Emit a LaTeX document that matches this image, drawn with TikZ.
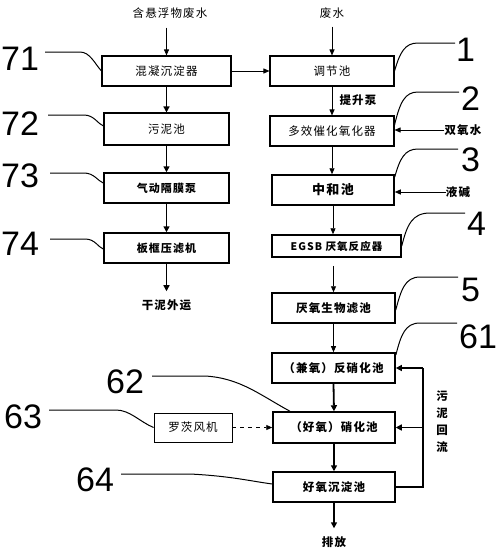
\documentclass[tikz,border=0pt]{standalone}
\usepackage{fontspec}
\setmainfont{Noto Sans CJK SC}
\newfontfamily\cjk[LetterSpace=10]{Noto Sans CJK SC}
\newfontfamily\numf{Liberation Sans}
\usetikzlibrary{arrows.meta}
\begin{document}
\begin{tikzpicture}[x=1pt,y=-1pt,
 box/.style={draw, line width=1.1pt, minimum height=30pt, inner sep=0pt, font=\cjk\fontsize{11.5}{13}\selectfont},
 bbox/.style={box, line width=1.5pt, font=\cjk\bfseries\fontsize{11.5}{13}\selectfont},
 lbl/.style={inner sep=0pt, font=\cjk\fontsize{11.5}{13}\selectfont},
 blbl/.style={inner sep=0pt, font=\cjk\bfseries\fontsize{11.5}{13}\selectfont},
 num/.style={inner sep=0pt, anchor=north west, font=\numf\fontsize{34}{36}\selectfont},
 tarrow/.style={line width=0.9pt, -{Triangle[length=6pt,width=5pt]}},
 karrow/.style={line width=1.8pt, -{Triangle[length=6pt,width=6pt]}},
 leader/.style={line width=1pt}]
\useasboundingbox (0,0) rectangle (498,554);
% left column
\node[box, minimum width=129pt] (B71) at (166.5,71) {混凝沉淀器};
\node[box, minimum width=125pt, minimum height=32pt] (B72) at (166.5,129) {污泥池};
\node[bbox, minimum width=125pt, font=\cjk\bfseries\fontsize{11}{13}\selectfont] (B73) at (166.5,188) {气动隔膜泵};
\node[bbox, minimum width=125pt, font=\cjk\bfseries\fontsize{11}{13}\selectfont] (B74) at (166.5,248) {板框压滤机};
% right column
\node[box, minimum width=124pt] (B1) at (332,71) {调节池};
\node[box, minimum width=124pt] (B2) at (332,131) {多效催化氧化器};
\node[bbox, minimum width=122pt, font=\cjk\bfseries\fontsize{13}{15}\selectfont] (B3) at (333,190) {中和池};
\node[bbox, minimum width=129pt, minimum height=22pt, font=\cjk\bfseries\fontsize{10.5}{12}\selectfont] (B4) at (336.5,246) {EGSB 厌氧反应器};
\node[bbox, minimum width=123pt] (B5) at (333.5,308) {厌氧生物滤池};
\node[bbox, minimum width=123pt, line width=1.7pt] (B61) at (333.5,368) {（兼氧）反硝化池};
\node[bbox, minimum width=122pt, minimum height=31pt] (B62) at (334,427.5) {（好氧）硝化池};
\node[bbox, minimum width=122pt] (B64) at (334,487) {好氧沉淀池};
\node[box, minimum width=78pt, minimum height=29pt, line width=0.8pt] (B63) at (193,427.5) {罗茨风机};
% labels
\node[lbl] (in71) at (170,13) {含悬浮物废水};
\node[lbl] (in1) at (332,13) {废水};
\node[blbl] (pump) at (358,100) {提升泵};
\node[blbl] (h2o2) at (463,130) {双氧水};
\node[blbl] (naoh) at (458,192) {液碱};
\node[blbl] (dry) at (166.5,305) {干泥外运};
\node[blbl] (out) at (334,542) {排放};
\node[blbl, align=center, font=\cjk\bfseries\fontsize{11.5}{17}\selectfont] (ret) at (442,422) {污\\泥\\回\\流};
% numbers
\node[num] (n71) at (1,47) {71};
\node[num] (n72) at (1,112) {72};
\node[num] (n73) at (1,164) {73};
\node[num] (n74) at (1,232) {74};
\node[num] (n63) at (4,405) {63};
\node[num] (n62) at (106,370) {62};
\node[num] (n64) at (76,468) {64};
\node[num] (n1) at (456,38) {1};
\node[num] (n2) at (461,87) {2};
\node[num] (n3) at (461,148) {3};
\node[num] (n4) at (467,212) {4};
\node[num] (n5) at (461,278) {5};
\node[num] (n61) at (459,325) {61};
% flow arrows
\draw[tarrow, shorten <=9pt] (in71.south -| B71.north) -- (B71.north);
\draw[karrow] (B71.south) -- (B72.north);
\draw[karrow] (B72.south) -- (B73.north);
\draw[karrow] (B73.south) -- (B74.north);
\draw[karrow, shorten >=8pt] (B74.south) -- (dry.north);
\draw[tarrow, shorten <=8pt] (in1.south) -- (B1.north);
\draw[tarrow] (B71.east) -- (B1.west);
\draw[tarrow] (B1.south) -- (B2.north);
\draw[tarrow] (B2.south) -- (B2.south |- B3.north);
\draw[tarrow] (B3.south) -- (B3.south |- B4.north);
\draw[tarrow, shorten <=8pt] (B5.north |- B4.south) -- (B5.north);
\draw[tarrow] (B5.south) -- (B61.north);
\draw[karrow] (B61.south) -- (B62.north);
\draw[karrow] (B62.south) -- (B64.north);
\draw[karrow, shorten >=8pt] (B64.south) -- (out.north);
\draw[tarrow] (h2o2.west) -- (h2o2.west -| B2.east);
\draw[tarrow] (naoh.west) -- (naoh.west -| B3.east);
\draw[tarrow, dashed, dash pattern=on 4pt off 4pt] (B63.east) -- (B62.west);
% sludge return
\coordinate (rt) at (423,368);
\draw[line width=1.8pt] (B64.east) -| (rt);
\draw[karrow] (rt) -- (B61.east);
\draw[karrow] (rt |- B62.east) -- (B62.east);
% leaders right
\draw[leader] (B1.east) .. controls (400,52) and (405,43) .. (418,43) -- (455,43);
\draw[leader] ([yshift=6pt]B2.east) .. controls (400,102) and (405,92) .. (418,92) -- (459,92);
\draw[leader] ([yshift=13pt]B3.east) .. controls (400,158) and (405,149) .. (418,149) -- (458,149);
\draw[leader] (B4.east) .. controls (407,225) and (412,213) .. (430,213) -- (465,213);
\draw[leader] ([yshift=-2pt]B5.east) .. controls (401,290) and (405,277) .. (420,277) -- (458,277);
\draw[leader] ([yshift=13pt]B61.east) .. controls (401,335) and (405,323) .. (420,323) -- (457,323);
% leaders left
\draw[leader] (45,52) -- (80,52) .. controls (90,52) and (95,64) .. (B71.west);
\draw[leader] (48,115) -- (84,115) .. controls (94,115) and (98,124) .. ([yshift=3pt]B72.west);
\draw[leader] (50,173) -- (84,173) .. controls (94,173) and (98,181) .. ([yshift=5pt]B73.west);
\draw[leader] (50,239) -- (85,239) .. controls (95,239) and (98,247) .. ([yshift=-1pt]B74.west);
\draw[leader] (49,410) -- (116,410) .. controls (130,410) and (140,422) .. (B63.west);
\draw[leader] (152,376) -- (205,376) .. controls (240,378) and (260,395) .. ([xshift=-44pt]B62.north);
\draw[leader] (121,474) -- (190,474) .. controls (230,476) and (250,481) .. ([yshift=3pt]B64.west);
\end{tikzpicture}
\end{document}
